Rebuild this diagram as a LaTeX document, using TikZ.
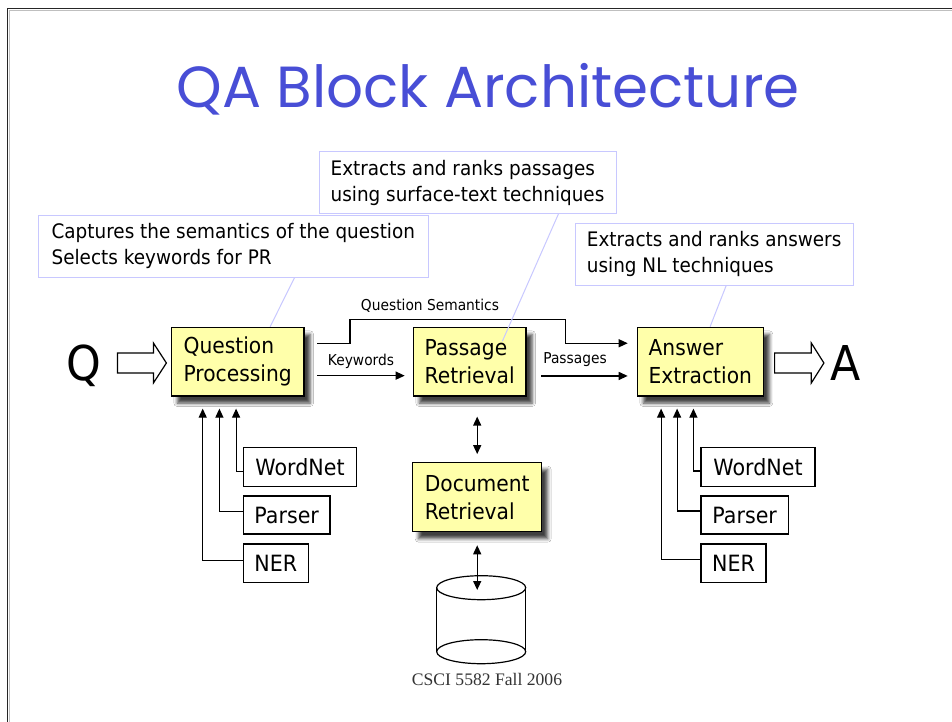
\documentclass[tikz,border=0pt]{standalone}
\usepackage{fontspec}
\setmainfont[FakeStretch=0.92]{DejaVu Sans}
\newfontfamily\titlefont{Poppins}
\newfontfamily\serifft{Liberation Serif}
\usetikzlibrary{arrows.meta,calc,shadows.blur}
\definecolor{boxyellow}{RGB}{255,255,170}
\definecolor{callblue}{RGB}{200,200,255}
\definecolor{titleblue}{RGB}{72,78,214}
\begin{document}
\begin{tikzpicture}[x=1pt,y=-1pt,
  proc/.style={draw=black, line width=1.2pt, fill=boxyellow, align=left,
    font=\fontsize{22}{28}\selectfont, inner sep=0pt,
    blur shadow={shadow xshift=6pt, shadow yshift=-7pt, shadow blur radius=3.5pt, shadow opacity=75}},
  res/.style={draw=black, line width=1.2pt, fill=white, font=\fontsize{22.4}{28}\selectfont, inner sep=0pt},
  callout/.style={draw=callblue, line width=1pt, fill=white, align=left, font=\fontsize{20}{26}\selectfont, inner sep=0pt},
  lbl/.style={font=\fontsize{15}{18}\selectfont, anchor=base, inner sep=0pt},
  arr/.style={line width=1.3pt, -{Triangle[length=9pt,width=8pt]}},
  darr/.style={line width=1.3pt, {Triangle[length=9pt,width=8pt]}-{Triangle[length=9pt,width=8pt]}},
  feed/.style={line width=1.2pt, -{Triangle[length=9pt,width=8pt]}},
  calline/.style={draw=callblue, line width=1pt},
  hollow/.style={draw=black, line width=1.2pt, fill=white},
  big/.style={font=\fontsize{48}{48}\selectfont, anchor=base, inner sep=0pt},
]
\useasboundingbox (0,0) rectangle (952,722);
\fill[white] (0,0) rectangle (952,722);
% frame
\draw[black!25, line width=1pt] (952,10.2) -- (9.2,10.2) -- (9.2,722);
\draw[black!85, line width=1.4pt] (952,8.3) -- (7.3,8.3) -- (7.3,722);

% title
\node[font=\titlefont\fontsize{58}{58}\selectfont, text=titleblue, anchor=base, inner sep=0pt] (title) at (488,108) {QA Block Architecture};

% callouts
\node[callout, minimum width=390pt, minimum height=62.3pt] (c1) at (233.3,246.15) {Captures the semantics of the question\\Selects keywords for PR};
\node[callout, minimum width=297pt, minimum height=61.6pt] (c2) at (467.5,182.5) {Extracts and ranks passages\\using surface-text techniques};
\node[callout, minimum width=278.3pt, minimum height=61.7pt] (c3) at (714.15,254.15) {Extracts and ranks answers\\using NL techniques};

% main boxes
\node[proc, minimum width=132.7pt, minimum height=68.7pt] (qp) at (237.65,361.65) {Question\\Processing};
\node[proc, minimum width=112.7pt, minimum height=68.7pt] (pr) at (469.65,361.65) {Passage\\Retrieval};
\node[proc, minimum width=126pt, minimum height=68.7pt] (ae) at (700.3,361.65) {Answer\\Extraction};
\node[proc, minimum width=129pt, minimum height=69pt] (dr) at (477.2,497.2) {Document\\Retrieval};

% Q and A
\node[big] (q) at (84,380.5) {Q};
\node[big] (a) at (846,380.7) {A};

% hollow arrows
\draw[hollow] ($(qp.west)+(-53.3,1.35)$) ++(0,-10) -- ++(36,0) -- ++(0,-10) -- ++(13,20) -- ++(-13,20) -- ++(0,-10) -- ++(-36,0) -- cycle;
\draw[hollow] ($(ae.east)+(10.7,1.35)$) ++(0,-10) -- ++(36.7,0) -- ++(0,-10) -- ++(12.6,20) -- ++(-12.6,20) -- ++(0,-10) -- ++(-36.7,0) -- cycle;

% connectors between main boxes
\draw[arr] ($(qp.east)+(12.7,14)$) -- ($(pr.west)+(-8,14)$);
\node[lbl] (kw) at (361,365.7) {Keywords};
\draw[arr] ($(qp.east)+(12.7,-18.4)$) -- ++(32.6,0) -- ++(0,-24) -- ++(215.7,0) -- ++(0,24) -- ($(ae.west)+(-9,-18.4)$);
\node[lbl] (qs) at (430,310) {Question Semantics};
\draw[arr] ($(pr.east)+(14.7,14.3)$) -- ($(ae.west)+(-9,14.3)$);
\node[lbl] (ps) at (575,363) {Passages};

% resources left
\node[res, minimum width=113.4pt, minimum height=39.4pt] (lwn) at (300,467) {WordNet};
\node[res, minimum width=86.7pt, minimum height=38pt] (lpa) at (286.65,515) {Parser};
\node[res, minimum width=65pt, minimum height=38.7pt] (lner) at (275.8,563.35) {NER};
\draw[feed] ($(lwn.west)+(0,4.5)$) -| ($(qp.south west)+(65.4,12)$);
\draw[feed] ($(lpa.west)+(0,-3.5)$) -| ($(qp.south west)+(48.7,12)$);
\draw[feed] ($(lner.west)+(0,-2.7)$) -| ($(qp.south west)+(32,12)$);

% resources right
\node[res, minimum width=114pt, minimum height=39.4pt] (rwn) at (758,467) {WordNet};
\node[res, minimum width=87.3pt, minimum height=38pt] (rpa) at (744.65,515) {Parser};
\node[res, minimum width=65pt, minimum height=38.7pt] (rner) at (733.5,563.35) {NER};
\draw[feed] ($(rwn.west)+(0,4)$) -| ($(ae.south west)+(56.7,12)$);
\draw[feed] ($(rpa.west)+(0,-4)$) -| ($(ae.south west)+(40.4,12)$);
\draw[feed] ($(rner.west)+(0,-3.5)$) -| ($(ae.south west)+(24.4,12)$);

% database cylinder
\fill[white] (436.7,587.7) rectangle (525.7,651.7);
\draw[line width=1.2pt] (436.7,587.7) -- (436.7,651.7) (525.7,587.7) -- (525.7,651.7);
\draw[line width=1.2pt] (481.2,651.7) ellipse [x radius=44.5, y radius=12];
\draw[line width=1.2pt, fill=white] (481.2,587.7) ellipse [x radius=44.5, y radius=12];
\coordinate (dbtop) at (481.2,590);

% double arrows
\draw[darr, shorten <=8pt, shorten >=20pt] (dr.north) -- (dr.north |- pr.south);
\draw[darr, shorten <=13pt] (dr.south) -- (dr.south |- dbtop);

% callout leader lines
\draw[calline] ($(c1.south west)+(256.7,0)$) -- ($(qp.north west)+(99.4,0)$);
\draw[calline] ($(c2.south west)+(240,0)$) -- ($(pr.north west)+(89.7,14.4)$);
\draw[calline] ($(c3.south west)+(151.7,0)$) -- ($(ae.north west)+(73.4,0)$);

% footer
\node[font=\serifft\fontsize{17.6}{20}\selectfont, text=black!80, anchor=base, inner sep=0pt] (foot) at (487,685.7) {CSCI 5582 Fall 2006};
\end{tikzpicture}
\end{document}
